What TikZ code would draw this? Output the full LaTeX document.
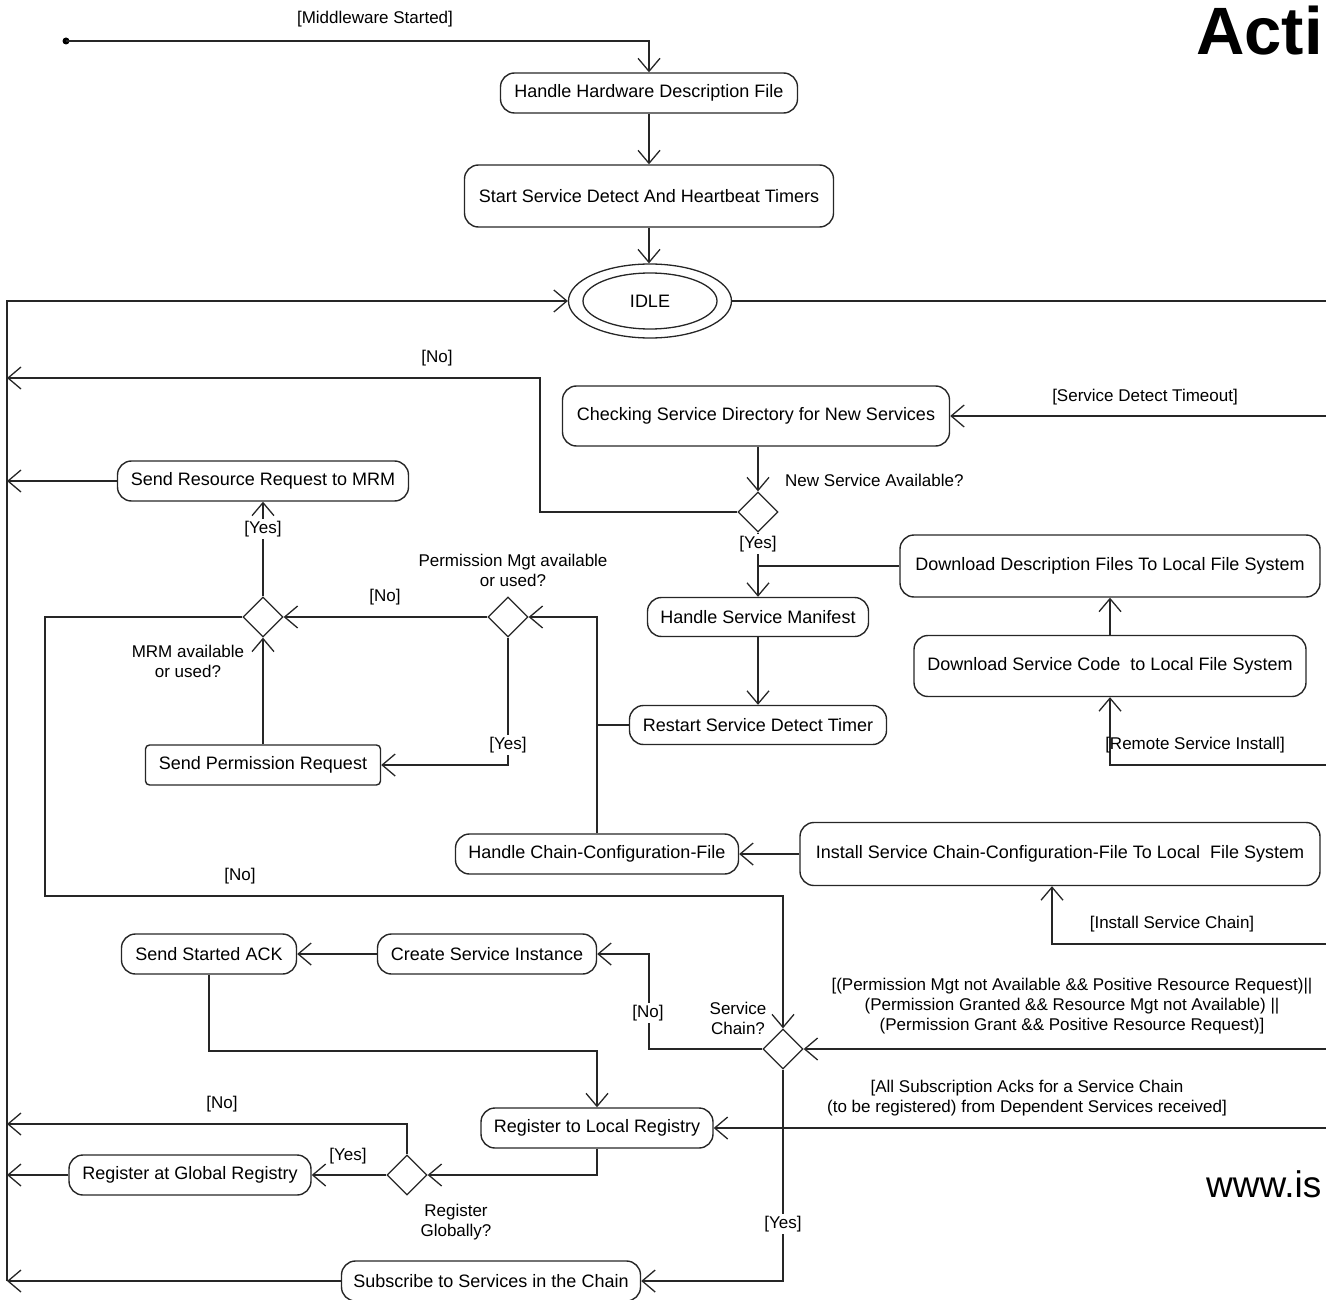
\documentclass[tikz,border=0pt]{standalone}
\usepackage{fontspec}
\setmainfont{Liberation Sans}
\usetikzlibrary{arrows.meta,shapes.geometric,calc}

\begin{document}
\begin{tikzpicture}[x=1pt,y=-1pt,
  >={Straight Barb[length=13pt,width=22pt]},
  flow/.style={draw=black!85, line width=1.3pt},
  act/.style={draw=black!85, line width=1.4pt, rounded corners=14pt, inner sep=0pt,
    font=\fontsize{18}{21}\selectfont, align=center},
  sq/.style={act, rounded corners=4pt},
  dec/.style={draw=black!85, line width=1.3pt, diamond, minimum width=40pt,
    minimum height=40pt, inner sep=0pt},
  lbl/.style={font=\fontsize{17}{20}\selectfont, inner sep=1pt, align=center},
  onl/.style={lbl, fill=white, inner sep=2pt}
]
\useasboundingbox (0,0) rectangle (1326,1300);

% title fragments
\node[anchor=base west, inner sep=0pt, font=\bfseries\fontsize{67}{67}\selectfont] (title) at (1196,55) {Acti};
\node[anchor=base west, inner sep=0pt, font=\fontsize{37}{37}\selectfont] (web) at (1206,1197) {www.is};

% start
\fill (66,41) circle (3.5pt);
\coordinate (start) at (66,41);

% actions
\node[act, minimum width=297pt, minimum height=40pt] (hhd) at (649,93) {Handle Hardware Description File};
\node[act, minimum width=369pt, minimum height=62pt] (sdt) at (649,196) {Start Service Detect And Heartbeat Timers};
\node[draw=black!85, line width=1.3pt, ellipse, minimum width=163pt, minimum height=74pt, inner sep=0pt] (idle) at (650,301) {};
\node[draw=black!85, line width=1.3pt, ellipse, minimum width=134pt, minimum height=56pt, inner sep=0pt,
  font=\fontsize{18}{21}\selectfont] (idlein) at (650,301) {IDLE};

\node[act, minimum width=387pt, minimum height=60pt] (chk) at (756,416) {Checking Service Directory for New Services};
\node[dec] (d1) at (758,512) {};
\node[act, minimum width=291pt, minimum height=40pt] (srr) at (263,481) {Send Resource Request to MRM};
\node[act, minimum width=420pt, minimum height=62pt] (ddf) at (1110,566) {Download Description Files To Local File System};
\node[act, minimum width=392pt, minimum height=61pt] (dsc) at (1110,666) {Download Service Code~ to Local File System};
\node[act, minimum width=221pt, minimum height=39pt] (hsm) at (758,617) {Handle Service Manifest};
\node[act, minimum width=257pt, minimum height=39pt] (rsd) at (758,725) {Restart Service Detect Timer};
\node[dec] (pm) at (508,617) {};
\node[dec] (mrm) at (263,617) {};
\node[sq, minimum width=235pt, minimum height=40pt] (spr) at (263,765) {Send Permission Request};
\node[act, minimum width=520pt, minimum height=63pt] (isc) at (1060,854) {Install Service Chain-Configuration-File To Local~ File System};
\node[act, minimum width=283pt, minimum height=40pt] (hcc) at (597,854) {Handle Chain-Configuration-File};
\node[act, minimum width=175pt, minimum height=40pt] (ack) at (209,954) {Send Started ACK};
\node[act, minimum width=219pt, minimum height=40pt] (csi) at (487,954) {Create Service Instance};
\node[dec] (sc) at (783,1049) {};
\node[act, minimum width=232pt, minimum height=40pt] (rlr) at (597,1128) {Register to Local Registry};
\node[dec] (rg) at (407,1175) {};
\node[act, minimum width=242pt, minimum height=40pt] (rgr) at (190,1175) {Register at Global Registry};
\node[act, minimum width=299pt, minimum height=40pt] (sub) at (491,1281) {Subscribe to Services in the Chain};

% free ends on the right border
\coordinate (rIdle) at (1326,301);
\coordinate (rTimeout) at (1326,416);
\coordinate (rRemote) at (1326,765);
\coordinate (rInstall) at (1326,944);
\coordinate (rPerm) at (1326,1049);
\coordinate (rAcks) at (1326,1128);
% return rail on the left border
\coordinate (railTop) at (7,301);
\coordinate (railBot) at (7,1281);
\coordinate (lNo1) at (7,378);
\coordinate (lSrr) at (7,481);
\coordinate (lNo2) at (7,1124);
\coordinate (lRgr) at (7,1175);
% bends
\coordinate (bNo1) at (540,378);
\coordinate (bJoin) at (758,566);
\coordinate (bChain) at (597,617);
\coordinate (bRsd) at (597,725);
\coordinate (bMrm) at (45,617);
\coordinate (bMrm2) at (45,896);
\coordinate (bMrm3) at (783,896);
\coordinate (bNo3) at (649,1049);
\coordinate (bNo3b) at (649,954);
\coordinate (bAck) at (209,1051);
\coordinate (bAck2) at (597,1051);

% connectors
\draw[flow,->] (start) -| (hhd.north);
\draw[flow,->] (hhd) -- (sdt);
\draw[flow,->] (sdt.south) -- (sdt.south |- idle.north);
\draw[flow] (idle.east) -- (rIdle);
\draw[flow,->] (railBot) -- (railTop) -- (idle.west);

\draw[flow,->] (rTimeout) -- (chk.east);
\draw[flow,->] (chk.south -| d1.north) -- (d1.north);
\draw[flow,->] (d1.west) -| (bNo1) -- (lNo1);
\draw[flow,->] (d1.south) -- (hsm.north);
\draw[flow] (ddf.west) -- (bJoin);
\draw[flow,->] (dsc.north) -- (ddf.south);
\draw[flow,->] (rRemote) -| (dsc.south);
\draw[flow,->] (hsm.south) -- (rsd.north);
\draw[flow] (rsd.west) -- (bRsd);
\draw[flow,->] (hcc.north) -- (bChain) -- (pm.east);
\draw[flow,->] (pm.west) -- (mrm.east);
\draw[flow,->] (pm.south) |- (spr.east);
\draw[flow,->] (spr.north) -- (mrm.south);
\draw[flow,->] (mrm.north) -- (srr.south);
\draw[flow,->] (srr.west) -- (lSrr);
\draw[flow,->] (mrm.west) -- (bMrm) -- (bMrm2) -- (bMrm3) -- (sc.north);
\draw[flow,->] (isc.west) -- (hcc.east);
\draw[flow,->] (rInstall) -| ([xshift=-8pt]isc.south);
\draw[flow,->] (rPerm) -- (sc.east);
\draw[flow,->] (sc.west) -- (bNo3) -- (bNo3b) -- (csi.east);
\draw[flow,->] (sc.south) |- (sub.east);
\draw[flow,->] (csi.west) -- (ack.east);
\draw[flow,->] (ack.south) -- (bAck) -- (bAck2) -- (rlr.north);
\draw[flow,->] (rAcks) -- (rlr.east);
\draw[flow,->] (rlr.south) |- (rg.east);
\draw[flow,->] (rg.west) -- (rgr.east);
\draw[flow,->] (rg.north) |- (lNo2);
\draw[flow,->] (rgr.west) -- (lRgr);
\draw[flow,->] (sub.west) -- (railBot);

% guards and decision texts
\node[lbl] (gStart) at (375,19) {[Middleware Started]};
\node[lbl] (gTimeout) at (1145,397) {[Service Detect Timeout]};
\node[lbl, anchor=west] (qNew) at (784,480) {New Service Available?};
\node[lbl] (gNo1) at (437,358) {[No]};
\node[onl] (gYes1) at (758,544) {[Yes]};
\node[lbl] (qPerm) at (513,570) {Permission Mgt available\\or used?};
\node[lbl] (gNo2) at (385,597) {[No]};
\node[onl] (gYes2) at (508,745) {[Yes]};
\node[onl] (gYes3) at (263,529) {[Yes]};
\node[lbl] (qMrm) at (188,661) {MRM available\\or used?};
\node[lbl] (gNo3) at (240,876) {[No]};
\node[lbl] (gRemote) at (1195,745) {[Remote Service Install]};
\node[lbl] (gInstall) at (1172,924) {[Install Service Chain]};
\node[lbl] (gPerm) at (1072,1006) {[(Permission Mgt not Available \&\& Positive Resource Request)||\\(Permission Granted \&\& Resource Mgt not Available) ||\\(Permission Grant \&\& Positive Resource Request)]};
\node[lbl] (qChain) at (738,1018) {Service\\Chain?};
\node[onl] (gNo4) at (648,1013) {[No]};
\node[onl] (gYes4) at (783,1224) {[Yes]};
\node[lbl] (gAcks) at (1027,1098) {[All Subscription Acks for a Service Chain\\(to be registered) from Dependent Services received]};
\node[lbl] (gYes5) at (348,1156) {[Yes]};
\node[lbl] (qGlobal) at (456,1222) {Register\\Globally?};
\node[lbl] (gNo5) at (222,1104) {[No]};
\end{tikzpicture}
\end{document}
